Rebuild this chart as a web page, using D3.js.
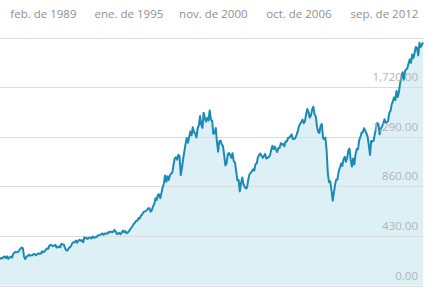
<!DOCTYPE html>
<html>
<head>
<meta charset="utf-8">
<script src="https://cdn.jsdelivr.net/npm/d3@7"></script>
<style>
  body { margin: 0; background: #fff; }
  svg text { font-family: "Open Sans", "Noto Sans", sans-serif; }
</style>
</head>
<body>
<div id="chart"></div>
<script>
// monthly closes, feb 1986 .. may 2015
let startMonth = new Date(1986, 1, 1);
let values = [
  226.9, 238.9, 235.5, 247.4, 250.8, 236.1, 252.9, 231.3, 244.0, 249.2, 242.2,
  274.1, 284.2, 291.7, 288.4, 290.1, 304.0, 318.7, 329.8, 321.8, 251.8, 230.3, 247.1,
  257.1, 267.8, 258.9, 261.3, 262.2, 273.5, 272.0, 261.5, 271.9, 279.0, 273.7, 277.7,
  297.5, 288.9, 294.9, 309.6, 320.5, 318.0, 346.1, 351.5, 349.2, 340.4, 346.0, 353.4,
  329.1, 331.9, 339.9, 330.8, 361.2, 358.0, 356.2, 322.6, 306.1, 304.0, 322.2, 330.2,
  343.9, 367.1, 375.2, 375.3, 389.8, 371.2, 387.8, 395.4, 387.9, 392.5, 375.2, 417.1,
  408.8, 412.7, 403.7, 415.0, 415.4, 408.1, 424.2, 414.0, 417.8, 418.7, 431.4, 435.7,
  438.8, 443.4, 451.7, 440.2, 450.2, 450.5, 448.1, 463.6, 458.9, 467.8, 461.8, 466.5,
  481.6, 467.1, 445.8, 450.9, 456.5, 444.3, 458.3, 475.5, 462.7, 472.4, 453.7, 459.3,
  470.4, 487.4, 500.7, 514.7, 533.4, 544.8, 562.1, 561.9, 584.4, 581.5, 605.4, 615.9,
  636.0, 640.4, 645.5, 654.2, 669.1, 670.6, 640.0, 652.0, 687.3, 705.3, 757.0, 740.7,
  786.2, 790.8, 757.1, 801.3, 848.3, 885.1, 954.3, 899.5, 947.3, 914.6, 955.4, 970.4,
  980.3, 1049.3, 1101.8, 1111.8, 1090.8, 1133.8, 1120.7, 957.3, 1017.0, 1098.7, 1163.6, 1229.2,
  1279.6, 1238.3, 1286.4, 1335.2, 1301.8, 1372.7, 1328.7, 1320.4, 1282.7, 1362.9, 1388.9, 1469.3,
  1394.5, 1366.4, 1498.6, 1452.4, 1420.6, 1454.6, 1430.8, 1517.7, 1436.5, 1429.4, 1315.0, 1320.3,
  1366.0, 1239.9, 1160.3, 1249.5, 1255.8, 1224.4, 1211.2, 1133.6, 1040.9, 1059.8, 1139.5, 1148.1,
  1130.2, 1106.7, 1147.4, 1076.9, 1067.1, 989.8, 911.6, 916.1, 815.3, 885.8, 936.3, 879.8,
  855.7, 841.2, 848.2, 916.9, 963.6, 974.5, 990.3, 1008.0, 996.0, 1050.7, 1058.2, 1111.9,
  1131.1, 1144.9, 1126.2, 1107.3, 1120.7, 1140.8, 1101.7, 1104.2, 1114.6, 1130.2, 1173.8, 1211.9,
  1181.3, 1203.6, 1180.6, 1156.9, 1191.5, 1191.3, 1234.2, 1220.3, 1228.8, 1207.0, 1249.5, 1248.3,
  1280.1, 1280.7, 1294.8, 1310.6, 1270.1, 1270.2, 1276.7, 1303.8, 1335.9, 1377.9, 1400.6, 1418.3,
  1438.2, 1406.8, 1420.9, 1482.4, 1530.6, 1503.4, 1455.3, 1474.0, 1526.8, 1549.4, 1481.1, 1468.4,
  1378.6, 1330.6, 1322.7, 1385.6, 1400.4, 1280.0, 1267.4, 1282.8, 1166.4, 968.8, 896.2, 903.3,
  825.9, 735.1, 797.9, 872.8, 919.1, 919.3, 987.5, 1020.6, 1057.1, 1036.2, 1095.6, 1115.1,
  1073.9, 1104.5, 1169.4, 1186.7, 1089.4, 1030.7, 1101.6, 1049.3, 1141.2, 1183.3, 1180.6, 1257.6,
  1286.1, 1327.2, 1325.8, 1363.6, 1345.2, 1320.6, 1292.3, 1218.9, 1131.4, 1253.3, 1247.0, 1257.6,
  1312.4, 1365.7, 1408.5, 1397.9, 1310.3, 1362.2, 1379.3, 1406.6, 1440.7, 1412.2, 1416.2, 1426.2,
  1498.1, 1514.7, 1569.2, 1597.6, 1630.7, 1606.3, 1685.7, 1633.0, 1681.6, 1756.5, 1805.8, 1848.4,
  1782.6, 1859.5, 1872.3, 1884.0, 1923.6, 1960.2, 1930.7, 2003.4, 1972.3, 2018.1, 2067.6, 2058.9,
  1995.0, 2104.5, 2067.9, 2085.5, 2107.4
];
let tickDates = [new Date(1989, 1, 1), new Date(1995, 0, 1), new Date(2000, 10, 1),
                 new Date(2006, 9, 1), new Date(2012, 8, 1)];
let tickLabels = ["feb. de 1989", "ene. de 1995", "nov. de 2000", "oct. de 2006", "sep. de 2012"];
let yTicks = [0, 430, 860, 1290, 1720];
let yMax = 2150;

let width = 433, height = 292;
let data = values.map((v, i) => ({date: d3.timeMonth.offset(startMonth, i), value: v}));

let svg = d3.select("#chart")
    .append("svg")
    .attr("width", width)
    .attr("height", height);

let x = d3.scaleTime()
    .domain([data[0].date, data[data.length - 1].date])
    .range([0, 423]);

let y = d3.scaleLinear()
    .domain([0, yMax])
    .range([285.5, 37.5]);

// fill
svg.append("path")
    .datum(data)
    .attr("fill", "#ddf0f5")
    .attr("d", d3.area().x(d => x(d.date)).y0(y(0)).y1(d => y(d.value)));

// grid lines
svg.selectAll(".grid")
    .data(yTicks.concat([yMax]))
    .enter().append("line")
    .attr("x1", 0)
    .attr("x2", 423)
    .attr("y1", d => Math.round(y(d)) + 0.5)
    .attr("y2", d => Math.round(y(d)) + 0.5)
    .attr("stroke", "#dcdcdc")
    .attr("stroke-width", 1);

// line
svg.append("path")
    .datum(data)
    .attr("fill", "none")
    .attr("stroke", "#1b8bb4")
    .attr("stroke-width", 2)
    .attr("stroke-linejoin", "round")
    .attr("d", d3.line().x(d => x(d.date)).y(d => y(d.value)));

// y labels
svg.selectAll(".ylab")
    .data(yTicks)
    .enter().append("text")
    .attr("x", 418)
    .attr("y", d => y(d) - 6)
    .attr("text-anchor", "end")
    .attr("font-size", "11.5px")
    .attr("fill", "#b4b4b4")
    .text(d => d3.format(",.2f")(d));

// x labels on top
svg.selectAll(".xlab")
    .data(tickDates)
    .enter().append("text")
    .attr("x", d => x(d))
    .attr("y", 18)
    .attr("text-anchor", "middle")
    .attr("font-size", "11.5px")
    .attr("fill", "#8f8f8f")
    .text((d, i) => tickLabels[i]);
</script>
</body>
</html>
